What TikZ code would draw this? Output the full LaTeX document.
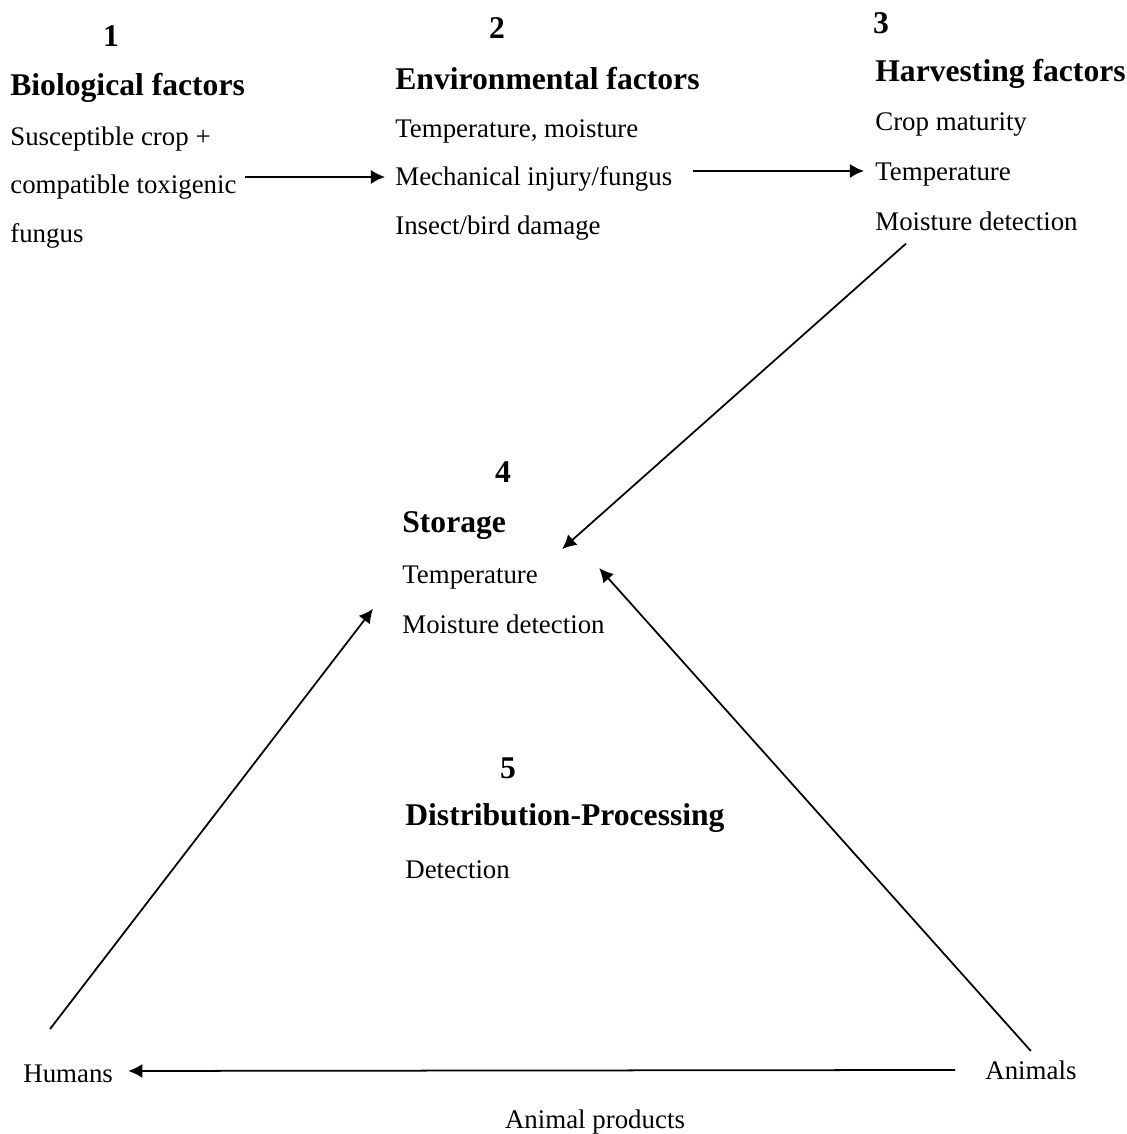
\documentclass[tikz,border=0pt]{standalone}
\usepackage{fontspec}
\setmainfont{Liberation Serif}
\usetikzlibrary{arrows.meta}

\tikzset{
  num/.style={font=\bfseries\fontsize{18}{22}\selectfont, anchor=base, inner sep=0pt},
  head/.style={font=\bfseries\fontsize{18}{22}\selectfont, anchor=base west, inner sep=0pt},
  txt/.style={font=\fontsize{15.3}{18}\selectfont, anchor=base west, inner sep=0pt},
  flow/.style={black, line width=1pt, -{Latex[length=8pt, width=8pt]}}
}

\begin{document}
\begin{tikzpicture}[x=0.02cm, y=-0.02cm]
            \useasboundingbox (0,0) rectangle (1127,1134);

            % Factores biologicos
            \node[num] (n1) at (111,46) {1};
            \node[head] (bioH) at (10,95) {Biological factors};
            \node[txt] (bioA) at (10,145) {Susceptible crop +};
            \node[txt] (bioB) at (10,193) {compatible toxigenic};
            \node[txt] (bioC) at (10,242) {fungus};

            % Factores ambientales
            \node[num] (n2) at (497,38) {2};
            \node[head] (envH) at (395,89) {Environmental factors};
            \node[txt] (envA) at (395,137) {Temperature, moisture};
            \node[txt] (envB) at (395,185) {Mechanical injury/fungus};
            \node[txt] (envC) at (395,234) {Insect/bird damage};

            % Cosecha
            \node[num] (n3) at (881,33) {3};
            \node[head] (harvH) at (875,81) {Harvesting factors};
            \node[txt] (harvA) at (875,130) {Crop maturity};
            \node[txt] (harvB) at (875,180) {Temperature};
            \node[txt] (harvC) at (875,230) {Moisture detection};

            % Almacenamiento
            \node[num] (n4) at (503,482) {4};
            \node[head] (storH) at (402,532) {Storage};
            \node[txt] (storB) at (402,583) {Temperature};
            \node[txt] (storC) at (402,633) {Moisture detection};

            % Distribucion
            \node[num] (n5) at (508,778) {5};
            \node[head] (distH) at (405,825) {Distribution-Processing};
            \node[txt] (distA) at (405,878) {Detection};

            % Consumidores
            \node[txt] (hum) at (23,1082) {Humans};
            \node[txt] (anim) at (985,1079) {Animals};
            \node[txt, anchor=base] (prod) at (595,1128) {Animal products};

            % Flechas
            \draw[flow] ([shift={(8,-4)}]bioB.east |- envB.mid) -- ([shift={(-10,-4)}]envB.mid west);
            \draw[flow] ([shift={(20,-5)}]envB.east |- harvB.mid) -- ([shift={(-11,-5)}]harvB.mid west);
            \draw[flow] ([shift={(31,13)}]harvC.south west) -- ([shift={(24,-16)}]storB.north east);
            \draw[flow] ([shift={(27,-35)}]hum.north west) -- ([shift={(-29,-15)}]storC.west);
            \draw[flow] ([shift={(0,-9)}]anim.north) -- ([shift={(61,-9)}]storB.east);
            \draw[flow] ([shift={(-30,-5)}]anim.mid west) -- ([shift={(15,-7)}]hum.mid east);
        \end{tikzpicture}
\end{document}
